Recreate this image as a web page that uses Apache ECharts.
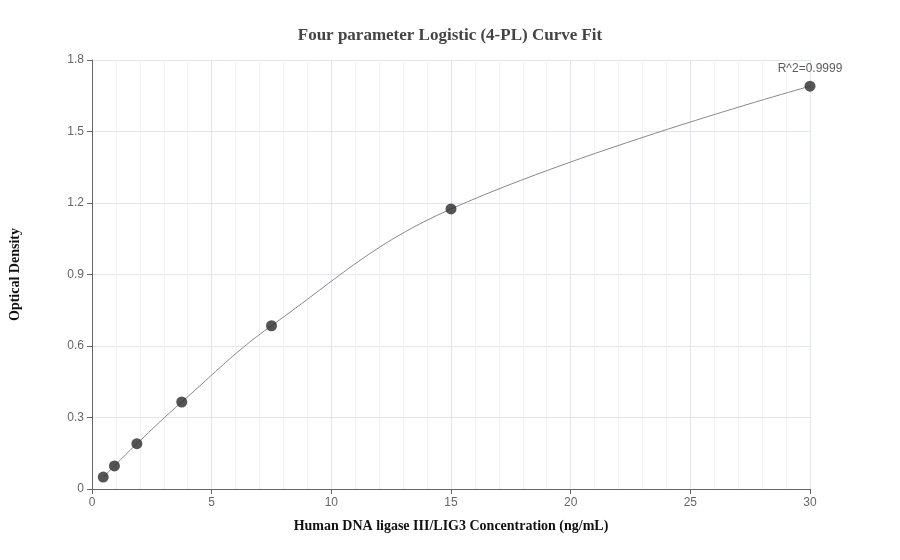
<!DOCTYPE html>
<html>
<head>
<meta charset="utf-8">
<script src="https://cdn.jsdelivr.net/npm/echarts@6/dist/echarts.min.js"></script>
<style>html,body{margin:0;padding:0;background:#fff}#chart{width:900px;height:560px}</style>
</head>
<body>
<div id="chart"></div>
<script>
var concentrations = [0.469, 0.938, 1.875, 3.75, 7.5, 15, 30];
var densities = [0.05, 0.097, 0.19, 0.365, 0.685, 1.175, 1.69];
var yTicks = [0, 0.3, 0.6, 0.9, 1.2, 1.5, 1.8];

var points = concentrations.map(function (c, i) { return [c, densities[i]]; });

var myChart = echarts.init(document.getElementById('chart'));
var option = {
    title: {
        text: 'Four parameter Logistic (4-PL) Curve Fit',
        left: 'center', top: 22,
        textStyle: { fontFamily: 'Liberation Serif', fontSize: 17, fontWeight: 'bold', color: '#444' }
    },
    grid: { left: 90, right: 90, top: 60, bottom: 71 },
    xAxis: {
        type: 'value', min: 0, max: 30, interval: 5,
        name: 'Human DNA ligase III/LIG3 Concentration (ng/mL)',
        nameLocation: 'middle', nameGap: 30,
        nameTextStyle: { fontFamily: 'Liberation Serif', fontSize: 14, fontWeight: 'bold', color: '#111' },
        axisLine: { lineStyle: { color: '#666' } },
        axisTick: { show: true, lineStyle: { color: '#666' } },
        axisLabel: { color: '#666', fontSize: 12 },
        splitLine: { lineStyle: { color: '#e0e6f1' } },
        minorTick: { show: false, splitNumber: 5 },
        minorSplitLine: { show: true, lineStyle: { color: '#f0f3f8' } }
    },
    yAxis: {
        type: 'value', min: 0, max: 1.8, interval: 0.3,
        name: 'Optical Density',
        nameLocation: 'middle', nameGap: 70, nameRotate: 90,
        nameTextStyle: { fontFamily: 'Liberation Serif', fontSize: 14, fontWeight: 'bold', color: '#111' },
        axisLine: { show: true, lineStyle: { color: '#666' } },
        axisTick: { show: true, lineStyle: { color: '#666' } },
        axisLabel: { color: '#666', fontSize: 12, formatter: function (v) { return v === 0 ? '0' : v.toFixed(1); } },
        splitLine: { lineStyle: { color: '#e0e6f1' } }
    },
    series: [
        {
            type: 'line', data: points, smooth: 0.4, symbol: 'none',
            lineStyle: { color: '#888', width: 1 }, z: 1
        },
        {
            type: 'scatter', data: points, symbolSize: 11,
            itemStyle: { color: '#2b2b2b' }, z: 2,
            label: {
                show: true, position: 'top', distance: 6, color: '#333', fontSize: 12,
                formatter: function (p) { return p.dataIndex === points.length - 1 ? 'R^2=0.9999' : ''; }
            }
        }
    ]
};
myChart.setOption(option);
</script>
</body>
</html>
